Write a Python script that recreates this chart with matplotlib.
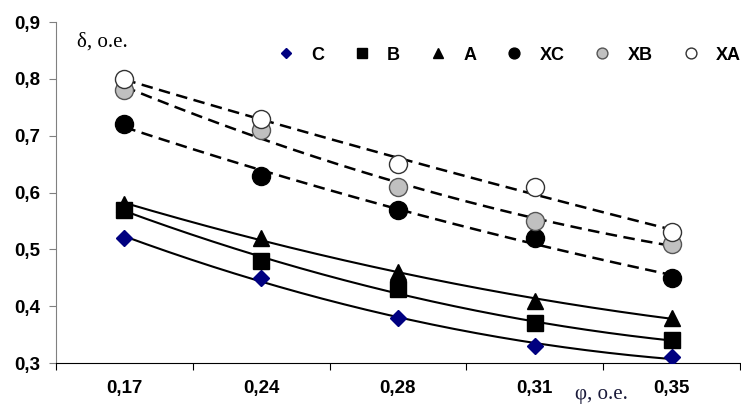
import matplotlib.pyplot as plt
import numpy as np

# данные графика
phi_labels = ["0,17", "0,24", "0,28", "0,31", "0,35"]
y_ticks = [0.3, 0.4, 0.5, 0.6, 0.7, 0.8, 0.9]

C = [0.52, 0.45, 0.38, 0.33, 0.31]
B = [0.57, 0.48, 0.43, 0.37, 0.34]
A = [0.58, 0.52, 0.46, 0.41, 0.38]
XC = [0.72, 0.63, 0.57, 0.52, 0.45]
XB = [0.78, 0.71, 0.61, 0.55, 0.51]
XA = [0.80, 0.73, 0.65, 0.61, 0.53]


def polyTrend(x, y, xs, deg=2):
    # полиномиальная линия тренда, как в Excel
    return np.polyval(np.polyfit(x, y, deg), xs)


plt.rcParams['font.family'] = ['Liberation Sans', 'DejaVu Sans']

fig = plt.figure(figsize=(7.41, 4.08), dpi=100)
ax = fig.add_axes([0.0756, 0.110, 0.9230, 0.836])

x = np.arange(len(phi_labels))
xs = np.linspace(0, len(phi_labels) - 1, 200)

# линии тренда
for ser in (C, B, A):
    ax.plot(xs, polyTrend(x, ser, xs), color='black', lw=1.5, zorder=2)
for ser in (XC, XB, XA):
    ax.plot(xs, polyTrend(x, ser, xs), color='black', lw=1.8,
            dashes=(4.6, 2.6), zorder=2)

# точки
ax.plot(x, C, 'D', color='#000080', ms=8.5, ls='none', label='C', zorder=3)
ax.plot(x, B, 's', color='black', ms=12, ls='none', label='B', zorder=3)
ax.plot(x, A, '^', color='black', ms=12, ls='none', label='A', zorder=3)
ax.plot(x, XC, 'o', color='black', ms=13, ls='none', label='XC', zorder=3)
ax.plot(x, XB, 'o', mfc='#c0c0c0', mec='#555555', mew=1.0, ms=13, ls='none',
        label='XB', zorder=3)
ax.plot(x, XA, 'o', mfc='white', mec='#333333', mew=1.0, ms=13, ls='none',
        label='XA', zorder=3)

ax.set_xlim(-0.5, len(phi_labels) - 0.5)
ax.set_ylim(0.3, 0.9)
ax.set_yticks(y_ticks)
ax.set_yticklabels([f"{v:.1f}".replace('.', ',') for v in y_ticks],
                   fontsize=13.5, fontweight='bold')
ax.set_xticks(np.arange(-0.5, len(phi_labels), 1.0))
ax.set_xticklabels([])
ax.set_xticks(x, minor=True)
ax.set_xticklabels(phi_labels, minor=True, fontsize=13.5, fontweight='bold')
ax.tick_params(axis='x', which='minor', length=0, pad=12)
ax.tick_params(axis='x', which='major', length=5, color='black')
ax.tick_params(axis='y', length=5, color='#808080', pad=6)

ax.spines['top'].set_visible(False)
ax.spines['right'].set_visible(False)
ax.spines['left'].set_color('#808080')
ax.spines['bottom'].set_color('black')

leg = ax.legend(loc='upper right', ncol=6, frameon=False, bbox_to_anchor=(1.025, 0.975),
                prop={'weight': 'bold', 'size': 13}, markerscale=0.6,
                handletextpad=0.8, columnspacing=1.5, handlelength=1.2)

fig.text(0.104, 0.885, "δ, o.e.", family='Liberation Serif', fontsize=15)
fig.text(0.776, 0.022, "φ, o.e.", family='Liberation Serif', fontsize=15,
         color='#1a1a3a')

fig.savefig("out.png", dpi=100)
